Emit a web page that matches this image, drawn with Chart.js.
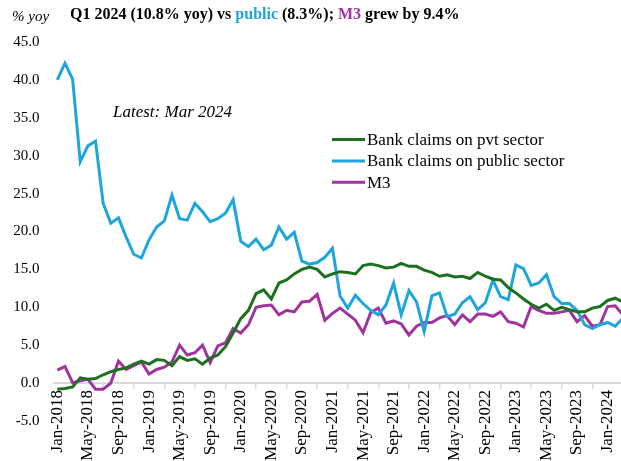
<!DOCTYPE html>
<html>
<head>
<meta charset="utf-8">
<script src="https://cdn.jsdelivr.net/npm/chart.js@4"></script>
<style>
  html, body { margin: 0; padding: 0; background: #fff; overflow: hidden; }
  #wrap { width: 630px; height: 461px; }
</style>
</head>
<body>
<div id="wrap"><canvas id="chart"></canvas></div>
<script>
const months = ["Jan", "Feb", "Mar", "Apr", "May", "Jun", "Jul", "Aug", "Sep", "Oct", "Nov", "Dec"];
const labels = [];
for (let y = 2018; y <= 2024; y++) {
  for (const m of months) {
    if (y === 2024 && labels.length >= 75) break;
    labels.push(m + "-" + y);
  }
}
labels.length = 75; // Jan-2018 .. Mar-2024

const pvtSector = [
  -0.8, -0.7, -0.5, 0.7, 0.5, 0.6, 1.1, 1.5, 1.8, 2.0, 2.5, 2.9,
  2.5, 3.1, 3.0, 2.3, 3.5, 3.0, 3.2, 2.5, 3.3, 3.7, 4.8, 6.6,
  8.5, 9.6, 11.8, 12.3, 11.1, 13.2, 13.6, 14.4, 15.0, 15.3, 15.0, 14.0,
  14.4, 14.7, 14.6, 14.4, 15.5, 15.7, 15.5, 15.2, 15.3, 15.8, 15.4, 15.4,
  14.9, 14.6, 14.1, 14.3, 14.0, 14.1, 13.8, 14.6, 14.1, 13.7, 13.6, 12.6,
  11.9, 11.1, 10.4, 9.9, 10.4, 9.6, 10.0, 9.7, 9.4, 9.4, 9.9, 10.1,
  10.9, 11.2, 10.7
];
const publicSector = [
  40.0, 42.2, 40.1, 29.2, 31.3, 31.9, 23.7, 21.1, 21.8, 19.3, 17.0, 16.5,
  18.9, 20.6, 21.4, 24.8, 21.7, 21.5, 23.7, 22.6, 21.3, 21.7, 22.4, 24.2,
  18.7, 18.0, 19.0, 17.6, 18.2, 20.6, 19.0, 19.9, 16.1, 15.7, 15.9, 16.6,
  17.8, 11.5, 9.9, 11.6, 10.5, 9.6, 9.0, 10.3, 13.2, 9.0, 12.2, 10.7,
  6.8, 11.5, 11.9, 8.8, 9.1, 10.6, 11.4, 9.7, 10.6, 13.6, 11.4, 11.0,
  15.6, 15.1, 12.9, 13.2, 14.3, 11.4, 10.5, 10.5, 9.6, 7.7, 7.2, 7.7,
  8.0, 7.5, 8.6
];
const m3 = [
  1.7, 2.2, 0.05, 0.3, 0.5, -0.8, -0.8, 0.0, 2.9, 1.8, 2.3, 2.8,
  1.2, 1.8, 2.1, 2.8, 5.0, 3.7, 4.0, 5.0, 2.7, 4.9, 5.3, 7.2,
  6.6, 7.7, 10.0, 10.2, 10.3, 9.0, 9.6, 9.4, 10.7, 10.8, 11.7, 8.3,
  9.2, 9.9, 9.1, 8.3, 6.65, 9.3, 9.9, 7.9, 8.2, 7.8, 6.35, 7.5,
  8.0, 8.0, 8.6, 8.9, 7.7, 9.0, 8.1, 9.1, 9.1, 8.8, 9.4, 8.1,
  7.9, 7.4, 10.1, 9.6, 9.2, 9.2, 9.4, 9.6, 8.1, 8.9, 7.5, 7.7,
  10.1, 10.2, 9.0
];

const GREEN = "#1e7021";
const BLUE = "#1ea5dc";
const PURPLE = "#a0339e";
const SERIF = "'Liberation Serif', 'Times New Roman', serif";

const titleParts = [
  ["Q1 2024 (10.8% yoy) vs ", "#000"],
  ["public", BLUE],
  [" (8.3%); ", "#000"],
  ["M3", PURPLE],
  [" grew by 9.4%", "#000"],
];

const overlay = {
  id: "overlay",
  afterDraw(chart) {
    const ctx = chart.ctx;
    ctx.save();
    ctx.textBaseline = "middle";

    // unit label
    ctx.fillStyle = "#000";
    ctx.font = "italic 15px " + SERIF;
    ctx.fillText("% yoy", 12, 17);

    // title (second line)
    ctx.font = "bold 16px " + SERIF;
    let x = 70;
    for (const [txt, col] of titleParts) {
      ctx.fillStyle = col;
      ctx.fillText(txt, x, 15);
      x += ctx.measureText(txt).width;
    }

    // note
    ctx.fillStyle = "#000";
    ctx.font = "italic 17px " + SERIF;
    ctx.fillText("Latest: Mar 2024", 113, 113);

    // legend
    ctx.font = "17px " + SERIF;
    chart.data.datasets.forEach((ds, i) => {
      const y = 139.5 + i * 21.4;
      ctx.strokeStyle = ds.borderColor;
      ctx.lineWidth = 3;
      ctx.beginPath();
      ctx.moveTo(332, y);
      ctx.lineTo(365, y);
      ctx.stroke();
      ctx.fillStyle = "#000";
      ctx.fillText(ds.label, 367, y + 1);
    });
    ctx.restore();
  }
};

new Chart(document.getElementById("chart"), {
  type: "line",
  data: {
    labels: labels,
    datasets: [
      { label: "Bank claims on pvt sector", data: pvtSector, borderColor: GREEN },
      { label: "Bank claims on public sector", data: publicSector, borderColor: BLUE },
      { label: "M3", data: m3, borderColor: PURPLE },
    ],
  },
  options: {
    responsive: true,
    maintainAspectRatio: false,
    animation: false,
    elements: {
      line: { borderWidth: 3, tension: 0, fill: false },
      point: { radius: 0 },
    },
    layout: { padding: { top: 42, bottom: 40, left: 0, right: 0 } },
    plugins: {
      legend: { display: false },
      tooltip: { enabled: false },
    },
    scales: {
      x: {
        type: "category",
        position: { y: 0 },
        offset: true,
        grid: {
          display: true,
          offset: true,
          drawOnChartArea: false,
          drawTicks: true,
          tickLength: 5,
          color: "#d9d9d9",
          lineWidth: 1.5,
        },
        border: { display: true, color: "#d9d9d9", width: 2 },
        ticks: {
          autoSkip: false,
          minRotation: 90,
          maxRotation: 90,
          padding: 2,
          color: "#000",
          font: { family: SERIF, size: 17 },
          callback: (v, i) => (i % 4 === 0 ? labels[i] : null),
        },
      },
      y: {
        min: -5,
        max: 45,
        grid: { display: false, drawTicks: false },
        border: { display: false },
        ticks: {
          stepSize: 5,
          padding: 14,
          color: "#000",
          font: { family: SERIF, size: 15 },
          callback: (v) => v.toFixed(1),
        },
        afterFit: (scale) => { scale.width = 53.5; },
      },
    },
  },
  plugins: [overlay],
});
</script>
</body>
</html>
